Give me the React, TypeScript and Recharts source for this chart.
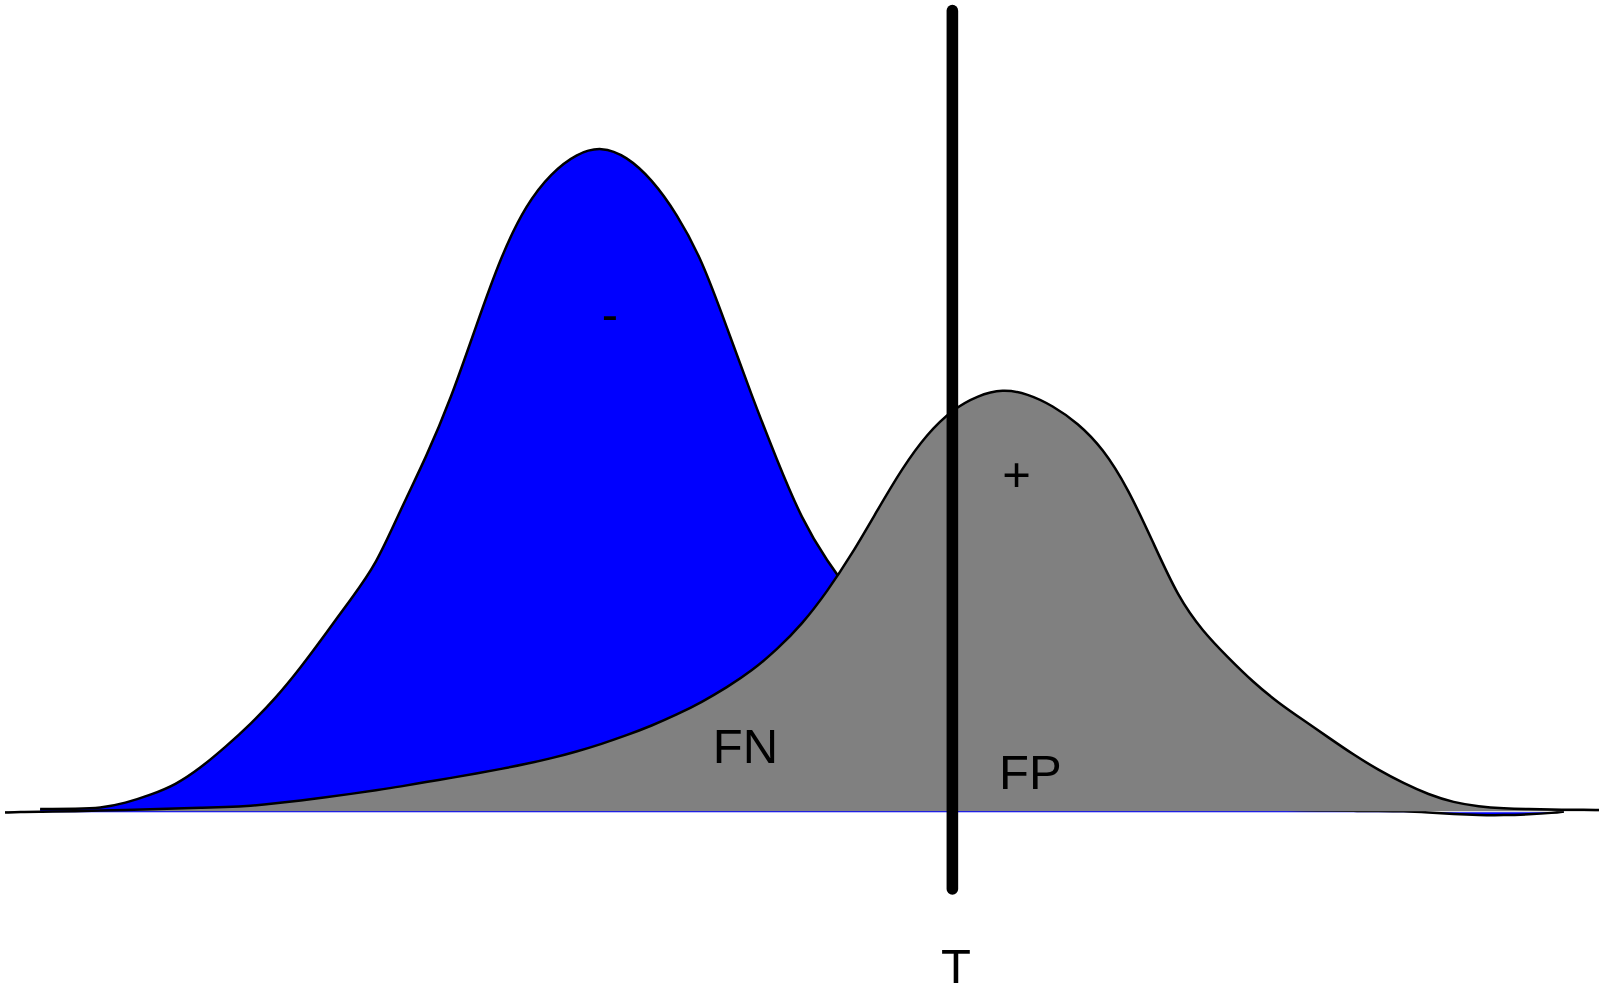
import { AreaChart, Area, XAxis, YAxis, ReferenceLine, ReferenceDot } from "recharts";

// score axis (0..16) and density values (peak of "-" = 100)
const scores = [
  0.05, 0.25, 0.4, 0.5, 0.75, 1, 1.25, 1.5, 1.75, 2, 2.25, 2.5, 2.75, 3, 3.25, 3.5, 3.75,
  4, 4.25, 4.5, 4.75, 5, 5.25, 5.5, 5.75, 6, 6.25, 6.5, 6.75, 7, 7.25, 7.5, 7.75,
  8, 8.25, 8.5, 8.75, 9, 9.25, 9.5, 9.75, 10, 10.25, 10.5, 10.75, 11, 11.25, 11.5, 11.75,
  12, 12.25, 12.5, 12.75, 13, 13.25, 13.5, 13.75, 14, 14.25, 14.5, 14.75, 15, 15.25, 15.5,
  15.6, 15.75, 15.95,
];

const negatives = [
  null, null, 0.33, 0.33, 0.37, 0.44, 1.2, 2.44, 3.94, 6.5, 9.66, 13.1, 17.0, 21.6, 26.7, 31.9, 37.0,
  45.5, 53.2, 62.1, 73.0, 83.6, 91.3, 96.0, 98.9, 100, 98.5, 95.1, 89.9, 83.0, 72.8, 62.4, 52.8,
  43.8, 37.6, 32.5, 28, 23.5, 19.5, 15.8, 12.5, 9.7, 7.4, 5.6, 4.2, 3.1, 2.3, 1.7, 1.2,
  0.85, 0.6, 0.4, 0.25, 0.15, 0.08, 0.04, 0.02, 0, -0.2, -0.45, -0.6, -0.62, -0.5, -0.25,
  -0.05, null, null,
];

const positives = [
  -0.2, -0.12, -0.09, -0.08, 0, 0.08, 0.18, 0.29, 0.41, 0.51, 0.6, 0.78, 1.16, 1.61, 2.09, 2.59, 3.14,
  3.71, 4.39, 4.99, 5.67, 6.35, 7.1, 7.95, 8.95, 10.1, 11.4, 12.85, 14.5, 16.4, 18.6, 21.1, 24.3,
  28.1, 33.0, 38.7, 45.2, 51.6, 56.8, 60.4, 62.5, 63.5, 62.8, 61.0, 58.4, 54.6, 48.6, 40.5, 32.2,
  27.0, 23.1, 19.4, 16.3, 13.7, 11.1, 8.5, 6.2, 4.2, 2.5, 1.3, 0.7, 0.42, 0.3, 0.24,
  0.22, 0.21, 0.18,
];

const threshold = 9.5;
const thresholdTop = 120.4;
const thresholdBottom = -11.7;

const labelTexts = ["-", "+", "FN", "FP", "T"];
const labelX = [6.085, 10.14, 7.11, 9.965, 9.536];
const labelY = [72.2, 48.2, 7.29, 3.33, -25.85];
const labelAnchor = ["middle", "middle", "start", "start", "middle"];

const data = scores.map((x, i) => ({ x, neg: negatives[i], pos: positives[i] }));

export default function App() {
  return (
    <div style={{ position: "absolute", left: 0, top: 0, width: 1604, height: 994, background: "#fff" }}>
      <AreaChart width={1604} height={994} data={data} margin={{ top: 0, right: 0, bottom: 0, left: 0 }}>
        <XAxis dataKey="x" type="number" domain={[0, 16]} hide allowDataOverflow />
        <YAxis type="number" domain={[-27.5, 122]} hide allowDataOverflow />
        <Area
          type="basis"
          dataKey="neg"
          baseValue={-0.15}
          stroke="#000"
          strokeWidth={2.5}
          fill="#0000ff"
          fillOpacity={1}
          dot={false}
          activeDot={false}
          connectNulls
          isAnimationActive={false}
        />
        <Area
          type="basis"
          dataKey="pos"
          baseValue={0}
          stroke="#000"
          strokeWidth={2.5}
          fill="#808080"
          fillOpacity={1}
          dot={false}
          activeDot={false}
          connectNulls
          isAnimationActive={false}
        />
        <ReferenceLine
          segment={[
            { x: threshold, y: thresholdTop },
            { x: threshold, y: thresholdBottom },
          ]}
          stroke="#000"
          strokeWidth={11.6}
          strokeLinecap="round"
          ifOverflow="visible"
        />
        {labelTexts.map((t, i) => (
          <ReferenceDot
            key={t}
            x={labelX[i]}
            y={labelY[i]}
            r={0}
            ifOverflow="visible"
            shape={(p: any) => (
              <text
                x={p.cx}
                y={p.cy}
                textAnchor={labelAnchor[i] as any}
                fontFamily="Liberation Sans, Arial, sans-serif"
                fontSize={49}
                fill="#000"
              >
                {t}
              </text>
            )}
          />
        ))}
      </AreaChart>
    </div>
  );
}
